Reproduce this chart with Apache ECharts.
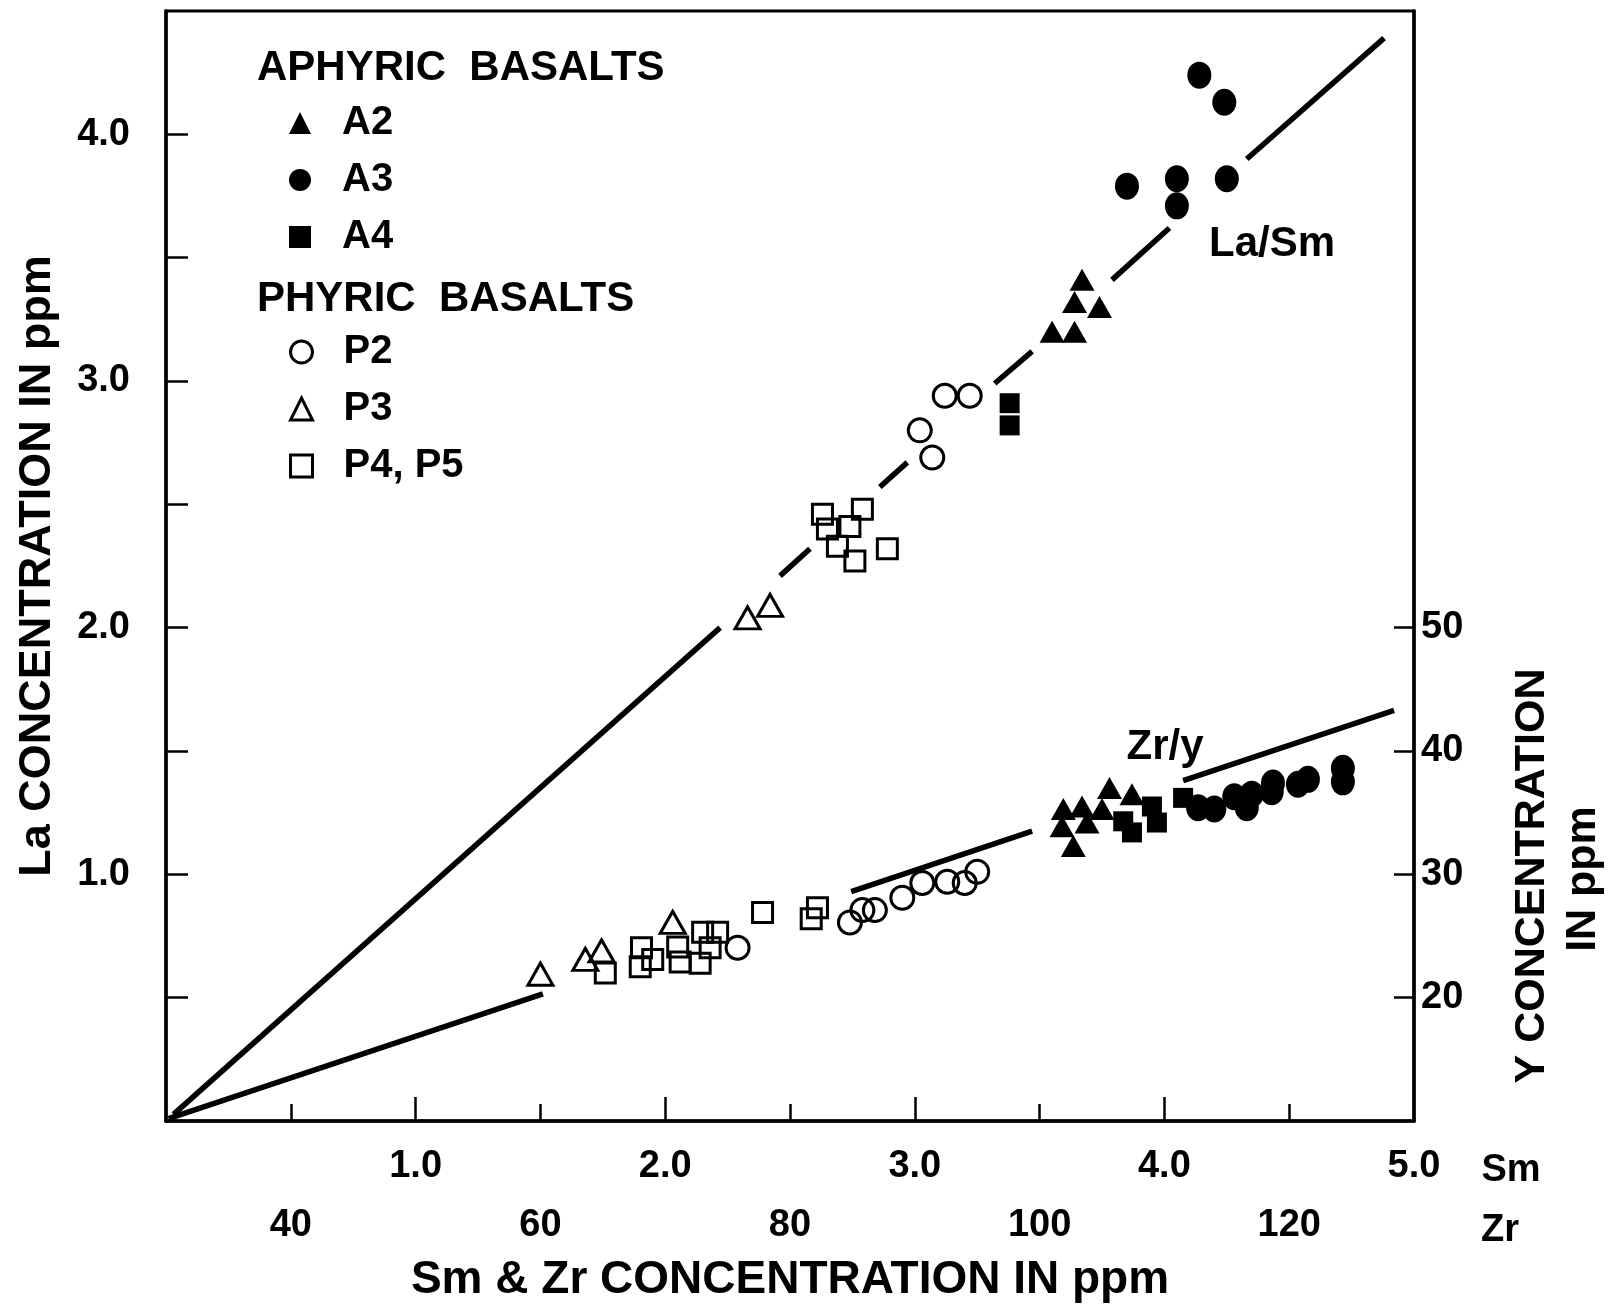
<!DOCTYPE html>
<html><head><meta charset="utf-8">
<script src="https://cdn.jsdelivr.net/npm/echarts@6/dist/echarts.min.js"></script>
<style>html,body{margin:0;padding:0;background:#fff}#c{width:1612px;height:1308px}</style>
</head><body><div id="c"></div>
<script>
// ---- tick values / labels ----
const smTickMajor = [1, 2, 3, 4];
const smTickLabels = [1, 2, 3, 4, 5];
const zrTickLabels = [40, 60, 80, 100, 120];
const laTicks = [0.5, 1, 1.5, 2, 2.5, 3, 3.5, 4];
const laTickLabels = [1, 2, 3, 4];
const yTickLabels = [20, 30, 40, 50];

// ---- La vs Sm (upper group) [Sm, La] ----
const a2LaSm = [[3.67,3.41],[3.64,3.32],[3.74,3.30],[3.55,3.20],[3.64,3.20]];
const a3LaSm = [[4.14,4.24],[4.24,4.13],[3.85,3.79],[4.05,3.82],[4.05,3.71],[4.25,3.82]];
const a4LaSm = [[3.38,2.91],[3.38,2.82]];
const p2LaSm = [[3.12,2.94],[3.22,2.94],[3.02,2.80],[3.07,2.69]];
const p3LaSm = [[2.33,2.04],[2.42,2.09]];
const p45LaSm = [[2.63,2.46],[2.65,2.40],[2.79,2.48],[2.74,2.41],[2.69,2.33],[2.76,2.27],[2.89,2.32]];

// ---- Y vs Zr (lower group) [Zr, Y] ----
const a2ZrY = [[101.9,35.3],[103.4,35.5],[101.8,33.9],[103.8,34.2],[105.0,35.3],[105.6,37.0],[107.4,36.5],[102.7,32.3]];
const a3ZrY = [[112.7,35.4],[114.0,35.3],[115.6,36.3],[116.6,35.4],[117.0,36.5],[118.6,36.7],[118.7,37.4],[120.7,37.3],[121.5,37.7],[124.3,38.6],[124.3,37.5]];
const a4ZrY = [[106.7,34.3],[107.4,33.4],[109.0,35.5],[109.4,34.2],[111.5,36.2]];
const p2ZrY = [[75.8,24.05],[84.8,26.1],[85.8,27.1],[86.8,27.1],[89.0,28.1],[90.6,29.3],[92.6,29.4],[94.0,29.3],[95.0,30.2]];
const p3ZrY = [[60.0,21.9],[63.6,23.1],[64.9,23.8],[70.6,26.1]];
const p45ZrY = [[65.2,22.0],[68.1,24.05],[69.0,23.1],[68.0,22.5],[71.0,24.1],[71.2,22.9],[73.0,25.3],[74.2,25.3],[73.6,24.05],[72.8,22.8],[77.8,26.9],[81.7,26.4],[82.2,27.3]];

// ---- fitted ratio lines (broken segments) ----
const laSmLine = [
  [[0.03,0.027],[2.22,2.00]],
  [[2.46,2.21],[2.58,2.32]],
  [[2.86,2.57],[2.97,2.67]],
  [[3.32,2.99],[3.47,3.12]],
  [[3.79,3.41],[4.02,3.62]],
  [[4.33,3.90],[4.88,4.39]]
];
const zrYLine = [
  [[30.2,10.2],[60.2,20.3]],
  [[84.9,28.6],[99.4,33.5]],
  [[111.5,37.6],[128.4,43.3]]
];

const FONT = "'Liberation Sans', Arial, Helvetica, sans-serif";
const INK = '#000';
const filled = {color: INK, opacity: 1};
const open = {color: 'rgba(255,255,255,0)', borderColor: INK, borderWidth: 3, opacity: 1};

function sc(name, data, symbol, size, style, lower) {
  return {
    type: 'scatter', name, data, symbol, symbolSize: size,
    xAxisIndex: lower ? 1 : 0, yAxisIndex: lower ? 1 : 0,
    itemStyle: style, emphasis: {disabled: true}, silent: true, z: 3
  };
}
function fitLine(segs, lower) {
  return {
    type: 'lines', coordinateSystem: 'cartesian2d',
    xAxisIndex: lower ? 1 : 0, yAxisIndex: lower ? 1 : 0,
    data: segs.map(s => ({coords: s})),
    lineStyle: {color: INK, width: 5.5, opacity: 1}, silent: true, z: 2
  };
}
const lbl = (size) => ({fontSize: size, fontWeight: 'bold', color: INK, fontFamily: FONT});
const legendText = Object.assign({lineHeight: 36, padding: [0, 0, 0, 26]}, lbl(40));

const chart = echarts.init(document.getElementById('c'), null, {renderer: 'canvas'});
chart.setOption({
  backgroundColor: '#fff',
  animation: false,
  grid: {left: 166, right: 198, top: 11, bottom: 177, show: true, borderColor: INK, borderWidth: 3, containLabel: false},
  xAxis: [
    {type: 'value', min: 0, max: 5, position: 'bottom',
     axisLine: {show: true, onZero: false, lineStyle: {color: INK, width: 3.5}},
     axisTick: {show: true, inside: true, length: 24, customValues: smTickMajor, lineStyle: {color: INK, width: 2.5}},
     axisLabel: Object.assign({customValues: smTickLabels, formatter: v => Number(v).toFixed(1), margin: 27, showMaxLabel: true}, lbl(38)),
     splitLine: {show: false},
     name: 'Sm & Zr CONCENTRATION IN ppm', nameLocation: 'middle', nameGap: 136,
     nameTextStyle: lbl(46)},
    {type: 'value', min: 30, max: 130, position: 'bottom',
     axisLine: {show: false, onZero: false},
     axisTick: {show: true, inside: true, length: 17, customValues: zrTickLabels, lineStyle: {color: INK, width: 2.5}},
     axisLabel: Object.assign({customValues: zrTickLabels, margin: 86}, lbl(38)),
     splitLine: {show: false}}
  ],
  yAxis: [
    {type: 'value', min: 0, max: 4.5, position: 'left',
     axisLine: {show: true, onZero: false, lineStyle: {color: INK, width: 3.5}},
     axisTick: {show: true, inside: true, length: 22, customValues: laTicks, lineStyle: {color: INK, width: 2.5}},
     axisLabel: Object.assign({customValues: laTickLabels, formatter: v => Number(v).toFixed(1), margin: 36}, lbl(38)),
     splitLine: {show: false},
     name: 'La CONCENTRATION IN ppm', nameLocation: 'middle', nameGap: 106,
     nameTextStyle: lbl(45)},
    {type: 'value', min: 10, max: 100, position: 'right',
     axisLine: {show: true, onZero: false, lineStyle: {color: INK, width: 3.5}},
     axisTick: {show: true, inside: true, length: 20, customValues: yTickLabels, lineStyle: {color: INK, width: 2.5}},
     axisLabel: Object.assign({customValues: yTickLabels, margin: 7}, lbl(38)),
     splitLine: {show: false}}
  ],
  legend: [
    {data: [
       {name: 'A2', itemStyle: filled},
       {name: 'A3', itemStyle: filled},
       {name: 'A4', itemStyle: filled}],
     orient: 'vertical', left: 284, top: 98, itemWidth: 22, itemHeight: 22, itemGap: 17,
     symbolKeepAspect: true, selectedMode: false, textStyle: legendText},
    {data: [
       {name: 'P2', itemStyle: open},
       {name: 'P3', itemStyle: open},
       {name: 'P4, P5', itemStyle: open}],
     orient: 'vertical', left: 284, top: 327, itemWidth: 22, itemHeight: 22, itemGap: 17,
     symbolKeepAspect: true, selectedMode: false, textStyle: legendText}
  ],
  graphic: [
    {type: 'text', x: 257, y: 68, style: {text: 'APHYRIC  BASALTS', font: 'bold 42px ' + FONT, fill: INK, align: 'left', verticalAlign: 'middle'}},
    {type: 'text', x: 257, y: 299, style: {text: 'PHYRIC  BASALTS', font: 'bold 42px ' + FONT, fill: INK, align: 'left', verticalAlign: 'middle'}},
    {type: 'text', x: 1272, y: 244, style: {text: 'La/Sm', font: 'bold 42px ' + FONT, fill: INK, align: 'center', verticalAlign: 'middle'}},
    {type: 'text', x: 1165, y: 747, style: {text: 'Zr/y', font: 'bold 42px ' + FONT, fill: INK, align: 'center', verticalAlign: 'middle'}},
    {type: 'text', x: 1511, y: 1171, style: {text: 'Sm', font: 'bold 38px ' + FONT, fill: INK, align: 'center', verticalAlign: 'middle'}},
    {type: 'text', x: 1500, y: 1231, style: {text: 'Zr', font: 'bold 38px ' + FONT, fill: INK, align: 'center', verticalAlign: 'middle'}},
    {type: 'text', x: 1532, y: 876, rotation: Math.PI / 2, style: {text: 'Y CONCENTRATION', font: 'bold 43px ' + FONT, fill: INK, align: 'center', verticalAlign: 'middle'}},
    {type: 'text', x: 1583, y: 879, rotation: Math.PI / 2, style: {text: 'IN ppm', font: 'bold 43px ' + FONT, fill: INK, align: 'center', verticalAlign: 'middle'}}
  ],
  series: [
    fitLine(laSmLine, false),
    fitLine(zrYLine, true),
    sc('A2', a2LaSm, 'triangle', [25, 22], filled, false),
    sc('A3', a3LaSm, 'circle', [24, 27], filled, false),
    sc('A4', a4LaSm, 'rect', [20, 20], filled, false),
    sc('P2', p2LaSm, 'circle', [23, 23], open, false),
    sc('P3', p3LaSm, 'triangle', [25, 22], open, false),
    sc('P4, P5', p45LaSm, 'rect', [20, 20], open, false),
    sc('A2', a2ZrY, 'triangle', [25, 22], filled, true),
    sc('A3', a3ZrY, 'circle', [24, 27], filled, true),
    sc('A4', a4ZrY, 'rect', [20, 20], filled, true),
    sc('P2', p2ZrY, 'circle', [23, 23], open, true),
    sc('P3', p3ZrY, 'triangle', [25, 22], open, true),
    sc('P4, P5', p45ZrY, 'rect', [20, 20], open, true)
  ]
});
</script>
</body></html>
